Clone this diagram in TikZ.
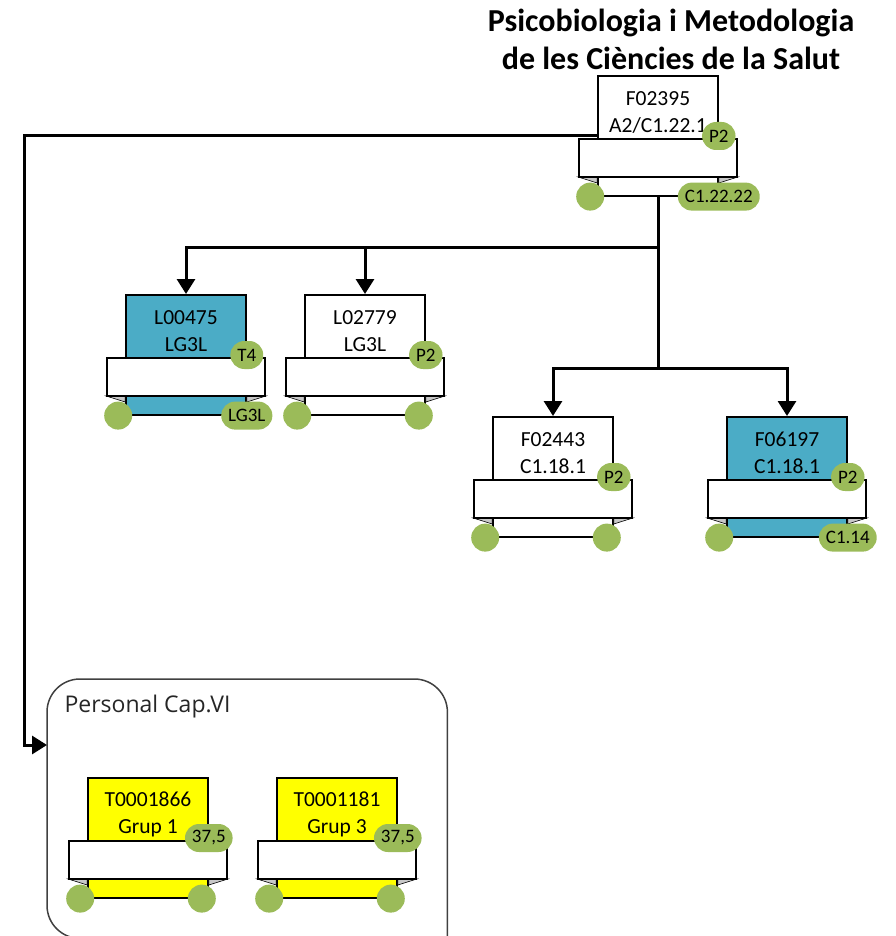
\documentclass[tikz,border=0pt]{standalone}
\usepackage{fontspec}
\setmainfont{Carlito}
\newfontfamily\framefont{Open Sans}
\usetikzlibrary{arrows.meta, positioning, calc}
\definecolor{orgTeal}{HTML}{4BACC6}
\definecolor{orgGreen}{HTML}{9BBB59}
\definecolor{orgYellow}{HTML}{FFFF00}
\definecolor{orgFold}{HTML}{C8C8C8}
\definecolor{orgFrame}{HTML}{404040}

% card: name, top centre, fill, text, tag, bottom-right tag (empty = dot)
\newcommand{\orgcard}[6]{%
  \node[cardbox, fill=#3] (#1) at (#2) {};
  \node[cardtext] (#1-text) at ([yshift=-37pt]#1.north) {#4};
  \filldraw[foldtri] ([xshift=-19pt,yshift=-102pt]#1.north west) -- ([yshift=-102pt]#1.north west) -- ([yshift=-108pt]#1.north west) -- cycle;
  \filldraw[foldtri] ([xshift=19pt,yshift=-102pt]#1.north east) -- ([yshift=-102pt]#1.north east) -- ([yshift=-108pt]#1.north east) -- cycle;
  \node[band] (#1-band) at ([yshift=-83pt]#1.north) {};
  \node[tagpill] (#1-tag) at ([yshift=-61pt]#1.north east) {#5};
  \node[portdot] (#1-in) at ([xshift=-7pt]#1.south west) {};
  \if\relax\detokenize{#6}\relax
    \node[portdot] (#1-out) at ([xshift=-7pt]#1.south east) {};
  \else
    \node[tagpill] (#1-out) at (#1.south east) {#6};
  \fi
}

\begin{document}
\begin{tikzpicture}[x=1pt, y=-1pt,
  cardbox/.style={draw, line width=1.6pt, minimum width=120pt, minimum height=120pt,
    inner sep=0pt, anchor=north},
  cardtext/.style={align=center, inner sep=0pt, font=\fontsize{21.5}{27}\selectfont},
  band/.style={draw, fill=white, line width=1.6pt, minimum width=158pt, minimum height=38pt,
    inner sep=0pt},
  foldtri/.style={fill=orgFold, draw=black, line width=0.6pt},
  tagpill/.style={fill=orgGreen, rounded corners=14pt, minimum height=28pt, inner xsep=7pt,
    inner ysep=0pt, font=\fontsize{19}{21}\selectfont},
  portdot/.style={circle, fill=orgGreen, minimum size=28pt, inner sep=0pt},
  groupframe/.style={draw=orgFrame, line width=1.5pt, rounded corners=33pt},
  arr/.style={-{Triangle[length=15pt, width=18pt]}, line width=3pt}]

  \useasboundingbox (0,0) rectangle (895,936);

  \node[font=\bfseries\fontsize{32}{38}\selectfont, align=center] (title) at (671,39)
    {Psicobiologia i Metodologia\\de les Ciències de la Salut};

  \node[minimum width=400pt, minimum height=259pt, inner sep=0pt, anchor=north west] (personal) at (47,679) {};
  \draw[groupframe] ([yshift=-20pt]personal.south east) -- (personal.north east) -- (personal.north west)
    -- (personal.south west) -- ([xshift=80pt]personal.south west);
  \node[anchor=west, text=black!85, font=\framefont\fontsize{23}{27}\selectfont] (personal-title)
    at ([xshift=14pt,yshift=-28pt]personal.north west) {Personal Cap.VI};

  \orgcard{f02395}{658,75}{white}{F02395\\A2/C1.22.1}{P2}{C1.22.22}
  \orgcard{l00475}{186,294}{orgTeal}{L00475\\LG3L}{T4}{LG3L}
  \orgcard{l02779}{365,294}{white}{L02779\\LG3L}{P2}{}
  \orgcard{f02443}{553,416}{white}{F02443\\C1.18.1}{P2}{}
  \orgcard{f06197}{787,416}{orgTeal}{F06197\\C1.18.1}{P2}{C1.14}
  \orgcard{t0001866}{148,777}{orgYellow}{T0001866\\Grup 1}{37,5}{}
  \orgcard{t0001181}{337,777}{orgYellow}{T0001181\\Grup 3}{37,5}{}

  \coordinate (split) at ([yshift=-51pt]f02395.south);
  \coordinate (split2) at ([yshift=-172pt]f02395.south);
  \coordinate (entry) at ([yshift=-66pt]personal.north west);

  \draw[line width=3pt] (f02395.south) -- (split2);
  \draw[arr] (split) -| (l00475.north);
  \draw[arr] (split) -| (l02779.north);
  \draw[arr] (split2) -| (f02443.north);
  \draw[arr] (split2) -| (f06197.north);
  \draw[arr] (f02395.west) -| ([xshift=-23pt]entry) -- (entry);
\end{tikzpicture}
\end{document}
